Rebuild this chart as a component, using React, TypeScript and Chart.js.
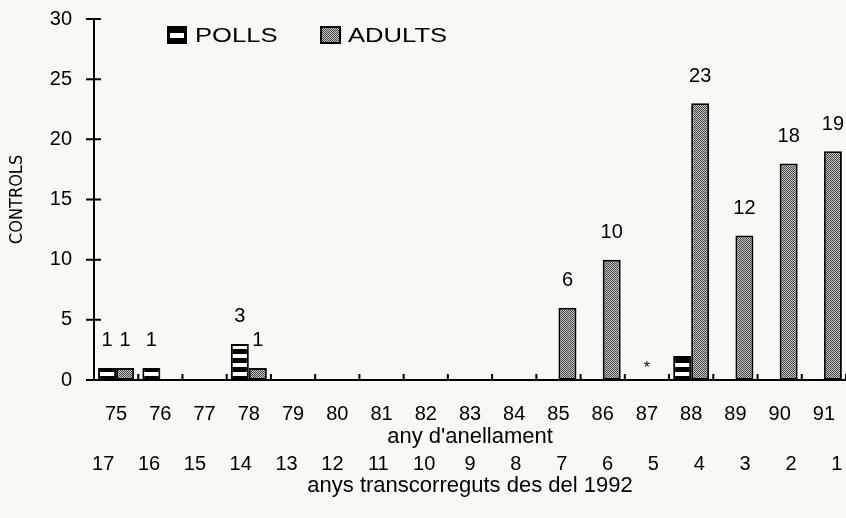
import React, { useEffect, useRef } from 'react';
import { Chart, registerables } from 'chart.js';

Chart.register(...registerables);

// ---- data ----
const years = ['75', '76', '77', '78', '79', '80', '81', '82', '83', '84', '85', '86', '87', '88', '89', '90', '91'];
const yearsSince = ['17', '16', '15', '14', '13', '12', '11', '10', '9', '8', '7', '6', '5', '4', '3', '2', '1'];
const polls = [1, 1, 0, 3, 0, 0, 0, 0, 0, 0, 0, 0, 0, 2, 0, 0, 0];
const adults = [1, 0, 0, 1, 0, 0, 0, 0, 0, 0, 6, 10, 0, 23, 12, 18, 19];
const notes = ['', '', '', '', '', '', '', '', '', '', '', '', '*', '', '', '', ''];
const pollsUnlabelled = ['88'];
const yTicks = [0, 5, 10, 15, 20, 25, 30];
const seriesNames = ['POLLS', 'ADULTS'];
const xTitle = "any d'anellament";
const x2Title = 'anys transcorreguts des del 1992';
const yTitle = 'CONTROLS';

const FONT = "'Liberation Sans', Arial, Helvetica, sans-serif";
const NARROW = "'Liberation Sans Narrow', 'Arial Narrow', 'DejaVu Sans Condensed', sans-serif";

function makePattern(base: CanvasRenderingContext2D, w: number, h: number, draw: (g: CanvasRenderingContext2D) => void) {
  const c = document.createElement('canvas');
  c.width = w;
  c.height = h;
  const g = c.getContext('2d')!;
  draw(g);
  return base.createPattern(c, 'repeat')!;
}

const noPad = (s: any) => {
  s.paddingLeft = 0;
  s.paddingRight = 0;
  s.paddingTop = 0;
  s.paddingBottom = 0;
};

export default function App() {
  const ref = useRef<HTMLCanvasElement>(null);

  useEffect(() => {
    const canvas = ref.current!;
    const base = canvas.getContext('2d')!;
    const stripe = makePattern(base, 4, 9, (g) => {
      g.fillStyle = '#000';
      g.fillRect(0, 0, 4, 9);
      g.fillStyle = '#fff';
      g.fillRect(0, 3, 4, 4);
    });
    const stipple = makePattern(base, 4, 4, (g) => {
      g.fillStyle = '#cbcbcb';
      g.fillRect(0, 0, 4, 4);
      g.fillStyle = '#404040';
      for (let y = 0; y < 4; y++) for (let x = 0; x < 4; x++) if ((x + y) % 2 === 0) g.fillRect(x, y, 1, 1);
    });

    const decor = {
      id: 'decor',
      afterDraw(chart: any) {
        const { ctx, chartArea: ca, scales } = chart;
        const xs = scales.x;
        const ys = scales.y;
        ctx.save();
        // axis ticks
        ctx.strokeStyle = '#000';
        ctx.lineWidth = 2;
        ctx.beginPath();
        const n = years.length;
        const slot = (ca.right - ca.left) / n;
        for (let k = 1; k <= n; k++) {
          const x = ca.left + k * slot;
          ctx.moveTo(x, ca.bottom);
          ctx.lineTo(x, ca.bottom - 6);
        }
        for (const v of yTicks) {
          const y = ys.getPixelForValue(v);
          ctx.moveTo(ca.left - 8, y);
          ctx.lineTo(ca.left + 7, y);
        }
        ctx.stroke();

        // value labels
        ctx.fillStyle = '#000';
        ctx.font = `20px ${FONT}`;
        ctx.textAlign = 'center';
        ctx.textBaseline = 'middle';
        chart.data.datasets.forEach((ds: any, di: number) => {
          const meta = chart.getDatasetMeta(di);
          ds.data.forEach((v: number | null, i: number) => {
            if (!v) return;
            if (di === 0 && pollsUnlabelled.includes(years[i])) return;
            const el = meta.data[i];
            ctx.fillText(String(v), el.x, el.y - 27);
          });
        });

        // notes
        ctx.font = `16px ${FONT}`;
        notes.forEach((t, i) => {
          if (!t) return;
          ctx.fillText(t, xs.getPixelForValue(i), ca.bottom - 11);
        });

        // legend
        const ly = ca.top + 7;
        const lx1 = ca.left + 73;
        const lx2 = ca.left + 226;
        ctx.fillStyle = '#000';
        ctx.fillRect(lx1, ly, 20, 18);
        ctx.fillStyle = '#fff';
        ctx.fillRect(lx1 + 3, ly + 7, 14, 5);
        ctx.fillStyle = stipple;
        ctx.fillRect(lx2, ly, 21, 18);
        ctx.strokeStyle = '#000';
        ctx.lineWidth = 2;
        ctx.strokeRect(lx2 + 1, ly + 1, 19, 16);

        const drawStretched = (t: string, x: number, y: number) => {
          ctx.save();
          ctx.translate(x, y);
          ctx.scale(1.28, 1);
          ctx.fillStyle = '#000';
          ctx.font = `20px ${FONT}`;
          ctx.textAlign = 'left';
          ctx.textBaseline = 'middle';
          ctx.fillText(t, 0, 0);
          ctx.restore();
        };
        drawStretched(seriesNames[0], lx1 + 28, ly + 10);
        drawStretched(seriesNames[1], lx2 + 28, ly + 10);
        ctx.restore();
      },
    };

    const tickFont = { size: 20, family: FONT };
    const titleFont = { size: 22, family: FONT };

    const chart = new Chart(canvas, {
      type: 'bar',
      data: {
        labels: years,
        datasets: [
          {
            label: seriesNames[0],
            data: polls.map((v) => (v ? v : null)),
            backgroundColor: stripe,
            borderColor: '#000',
            borderWidth: 2,
            borderSkipped: false,
            categoryPercentage: 0.814,
            barPercentage: 1,
          },
          {
            label: seriesNames[1],
            data: adults.map((v) => (v ? v : null)),
            backgroundColor: stipple,
            borderColor: '#000',
            borderWidth: 2,
            borderSkipped: false,
            categoryPercentage: 0.814,
            barPercentage: 1,
          },
        ],
      },
      options: {
        responsive: false,
        animation: false,
        devicePixelRatio: 1,
        layout: { padding: { top: 19, left: 0, right: 0, bottom: 0 } },
        plugins: { legend: { display: false }, tooltip: { enabled: false } },
        scales: {
          x: {
            type: 'category',
            labels: years,
            offset: true,
            weight: 0,
            grid: { display: false, drawTicks: false },
            border: { display: true, color: '#000', width: 2 },
            ticks: { color: '#000', font: tickFont, padding: 22, maxRotation: 0, autoSkip: false },
            title: { display: true, text: xTitle, color: '#000', font: titleFont, padding: { top: 0, bottom: 0 } },
            afterFit: (s: any) => {
              s.height = 70;
              noPad(s);
            },
          },
          x2: {
            type: 'linear',
            position: 'bottom',
            offset: false,
            min: -0.2,
            max: 16.2,
            weight: 1,
            grid: { display: false, drawTicks: false, offset: false },
            border: { display: false },
            ticks: {
              color: '#000',
              font: tickFont,
              padding: 2,
              maxRotation: 0,
              autoSkip: false,
              stepSize: 1,
              includeBounds: false,
              callback: (v: number) => (yearsSince[v] !== undefined ? yearsSince[v] : ''),
            },
            title: { display: true, text: x2Title, color: '#000', font: titleFont, padding: { top: 0, bottom: 19 } },
            afterFit: (s: any) => {
              s.height = 68;
              noPad(s);
            },
          },
          y: {
            min: 0,
            max: 30,
            ticks: { stepSize: 5, color: '#000', font: tickFont, padding: 22 },
            grid: { display: false, drawTicks: false },
            border: { display: true, color: '#000', width: 2 },
            title: { display: true, text: yTitle, color: '#000', font: { size: 18, family: NARROW }, padding: { top: 7, bottom: 0 } },
            afterFit: (s: any) => {
              s.width = 94;
              noPad(s);
            },
          },
        },
      },
      plugins: [decor],
    } as any);

    return () => chart.destroy();
  }, []);

  return (
    <div style={{ position: 'fixed', left: 0, top: 0, width: 846, height: 518, background: '#f9f8f5' }}>
      <canvas ref={ref} width={846} height={518} style={{ display: 'block', width: 846, height: 518 }} />
    </div>
  );
}
